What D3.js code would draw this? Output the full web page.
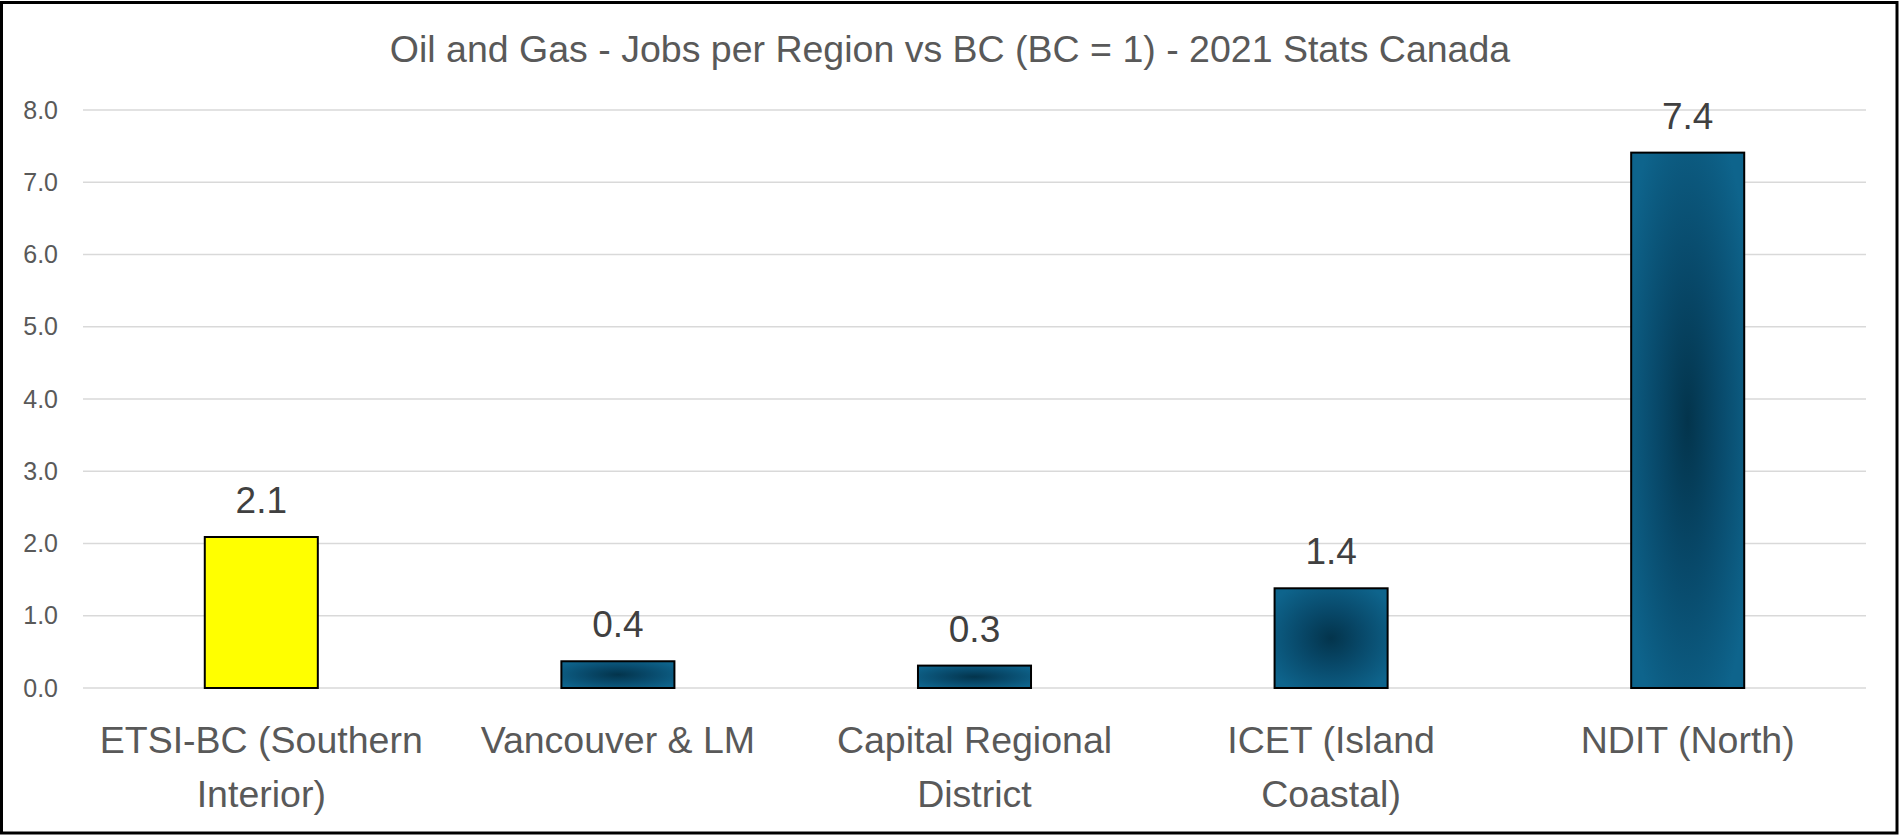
<!DOCTYPE html>
<html>
<head>
<meta charset="utf-8">
<script src="https://cdn.jsdelivr.net/npm/d3@7"></script>
<style>
  html, body { margin: 0; padding: 0; background: #fff; }
  svg { display: block; }
  text { font-family: "Liberation Sans", Arial, sans-serif; }
</style>
</head>
<body>
<svg id="chart" width="1900" height="835"></svg>
<script>
const titleText = "Oil and Gas - Jobs per Region vs BC (BC = 1) - 2021 Stats Canada";
const categories = [
  ["ETSI-BC (Southern", "Interior)"],
  ["Vancouver & LM"],
  ["Capital Regional", "District"],
  ["ICET (Island", "Coastal)"],
  ["NDIT (North)"]
];
const values = [2.09, 0.37, 0.31, 1.38, 7.41];
const highlight = [true, false, false, false, false];
const yTicks = [0, 1, 2, 3, 4, 5, 6, 7, 8];

const W = 1900, H = 835;
const m = { left: 83, right: 34, top: 110, bottom: 147 };
const svg = d3.select("#chart");

// outer border
svg.append("rect").attr("x", 1.5).attr("y", 2.5).attr("width", W - 4.5).attr("height", H - 4.5)
  .attr("fill", "#fff").attr("stroke", "#000").attr("stroke-width", 3);

const defs = svg.append("defs");
const grad = defs.append("radialGradient").attr("id", "blueGrad")
  .attr("cx", "50%").attr("cy", "50%").attr("r", "62%");
grad.append("stop").attr("offset", "0%").attr("stop-color", "#03344c");
grad.append("stop").attr("offset", "45%").attr("stop-color", "#08496a");
grad.append("stop").attr("offset", "100%").attr("stop-color", "#0e648c");

const x = d3.scaleBand()
  .domain(d3.range(categories.length))
  .range([m.left, W - m.right])
  .paddingInner(0.683)
  .paddingOuter(0.3415);

const y = d3.scaleLinear().domain([0, 8]).range([H - m.bottom, m.top]);

// gridlines
svg.append("g").selectAll("line").data(yTicks).join("line")
  .attr("x1", m.left).attr("x2", W - m.right)
  .attr("y1", d => y(d)).attr("y2", d => y(d))
  .attr("stroke", "#d9d9d9").attr("stroke-width", 1.5);

// y axis
const yAxis = d3.axisLeft(y).tickValues(yTicks).tickFormat(d3.format(".1f")).tickSize(0).tickPadding(25);
const yg = svg.append("g").attr("transform", `translate(${m.left},0)`).call(yAxis);
yg.select(".domain").remove();
yg.selectAll("text").attr("font-size", 25).attr("fill", "#595959")
  .attr("font-family", "'Liberation Sans', Arial, sans-serif");

// bars
svg.append("g").selectAll("rect").data(values).join("rect")
  .attr("x", (d, i) => x(i))
  .attr("width", x.bandwidth())
  .attr("y", d => y(d))
  .attr("height", d => y(0) - y(d))
  .attr("fill", (d, i) => highlight[i] ? "#ffff00" : "url(#blueGrad)")
  .attr("stroke", "#000").attr("stroke-width", 2);

// data labels
svg.append("g").selectAll("text").data(values).join("text")
  .attr("x", (d, i) => x(i) + x.bandwidth() / 2)
  .attr("y", d => y(d) - 24)
  .attr("text-anchor", "middle")
  .attr("font-size", 37).attr("fill", "#404040")
  .text(d => d3.format(".1f")(d));

// category labels
const cg = svg.append("g").selectAll("text").data(categories).join("text")
  .attr("x", (d, i) => x(i) + x.bandwidth() / 2)
  .attr("y", y(0) + 65)
  .attr("text-anchor", "middle")
  .attr("font-size", 37.5).attr("fill", "#595959");
cg.selectAll("tspan").data(d => d).join("tspan")
  .attr("x", function () { return d3.select(this.parentNode).attr("x"); })
  .attr("dy", (d, i) => i === 0 ? 0 : 54)
  .text(d => d);

// title
svg.append("text").attr("x", 950).attr("y", 62).attr("text-anchor", "middle")
  .attr("font-size", 37.5).attr("fill", "#595959").text(titleText);
</script>
</body>
</html>
